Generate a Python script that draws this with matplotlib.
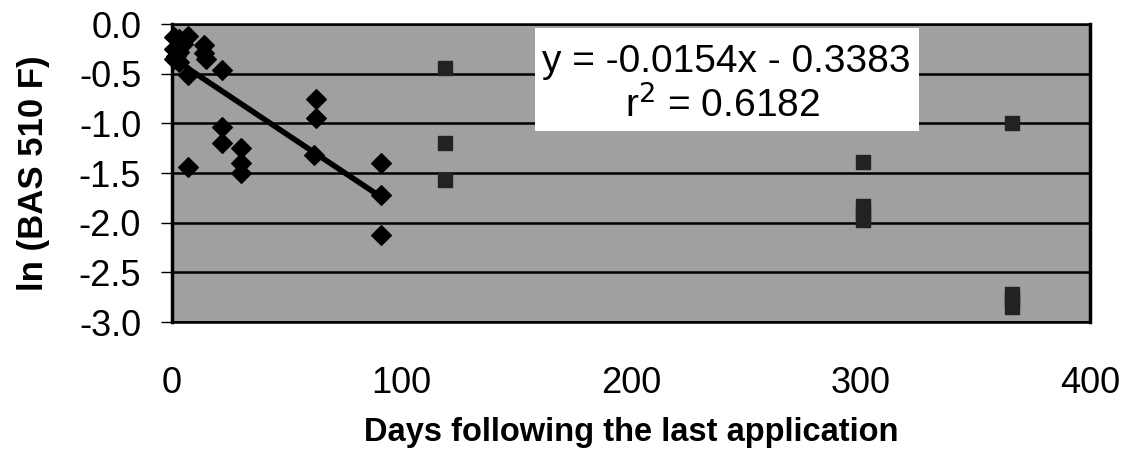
import matplotlib
matplotlib.use("Agg")
import matplotlib.pyplot as plt
from matplotlib.patches import Rectangle

plt.rcParams['font.family'] = ['Liberation Sans', 'DejaVu Sans']

# diamonds: early sampling series
days_d = [1, 3, 1, 3, 1, 3, 2, 5, 7, 14, 14, 15, 22, 7, 63, 63, 22, 22, 30, 30, 30, 7, 62, 91, 91, 91]
ln_d = [-0.13, -0.15, -0.25, -0.28, -0.35, -0.38, -0.32, -0.2, -0.12, -0.21, -0.29, -0.35,
        -0.46, -0.51, -0.75, -0.95, -1.04, -1.2, -1.25, -1.40, -1.5, -1.44, -1.32, -1.4, -1.72, -2.12]
# squares: later sampling series
days_s = [119, 119, 119, 301, 301, 301, 301, 366, 366, 366, 366]
ln_s = [-0.44, -1.2, -1.57, -1.39, -1.83, -1.9, -1.97, -1.0, -2.72, -2.78, -2.85]

slope, intercept = -0.0154, -0.3383
fit_x = [2, 91]

xticks = [0, 100, 200, 300, 400]
yticks = [0.0, -0.5, -1.0, -1.5, -2.0, -2.5, -3.0]

fig = plt.figure(figsize=(11.3, 4.76), dpi=100)
ax = fig.add_axes([0.152, 0.3235, 0.813, 0.626])
ax.set_facecolor('#a0a0a0')
ax.set_xlim(0, 400)
ax.set_ylim(-3.0, 0.0)
ax.set_yticks(yticks)
ax.set_yticklabels([f"{v:.1f}" for v in yticks])
ax.set_xticks(xticks)
ax.set_xticklabels([str(v) for v in xticks])
ax.yaxis.grid(True, color='black', linewidth=1.8)
ax.set_axisbelow(True)
ax.tick_params(axis='y', labelsize=26, length=8, width=1, direction='out', pad=14)
ax.tick_params(axis='x', labelsize=26, length=0, pad=32)
for s in ax.spines.values():
    s.set_color('black')
    s.set_linewidth(1.8)
ax.spines['left'].set_linewidth(2.5)
ax.spines['right'].set_linewidth(2.5)

ax.scatter(days_d, ln_d, marker='D', s=100, color='black', zorder=3, clip_on=False)
ax.scatter(days_s, ln_s, marker='s', s=115, color='#222222', zorder=3)
fy = [slope * x + intercept for x in fit_x]
ax.plot(fit_x, fy, color='black', linewidth=4, zorder=3)

ax.add_patch(Rectangle((0.395, 0.641), 0.418, 0.346, transform=ax.transAxes,
                       facecolor='white', edgecolor='none', zorder=4))
ax.text(0.604, 0.872, "y = -0.0154x - 0.3383", transform=ax.transAxes,
        fontsize=28, ha='center', va='center', zorder=5)
ax.text(0.600, 0.728, "r$^2$ = 0.6182", transform=ax.transAxes,
        fontsize=28, ha='center', va='center', zorder=5)

ax.set_ylabel("ln (BAS 510 F)", fontsize=25, fontweight='bold')
ax.yaxis.set_label_coords(-0.132, 0.5)
ax.set_xlabel("Days following the last application", fontsize=23.5, fontweight='bold')
ax.xaxis.set_label_coords(0.5, -0.32)

fig.savefig("out.png", dpi=100)
